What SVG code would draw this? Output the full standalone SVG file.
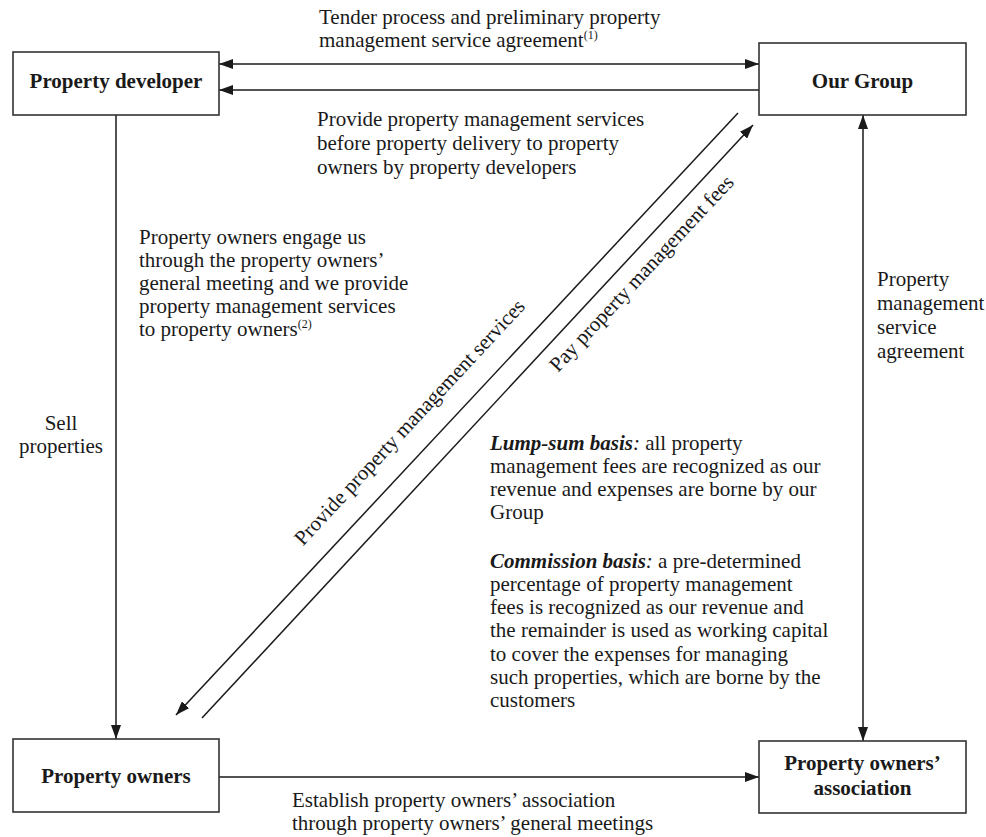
<svg xmlns="http://www.w3.org/2000/svg" width="986" height="837" viewBox="0 0 986 837">
  <defs>
    <marker id="arrow" viewBox="0 0 14 10" refX="14" refY="5" markerWidth="14" markerHeight="10" markerUnits="userSpaceOnUse" orient="auto-start-reverse">
      <path d="M0,0 L14,5 L0,10 z" fill="#1a1a1a"/>
    </marker>
    <style>
      .box { fill: #ffffff; stroke: #333333; stroke-width: 1.6; }
      .title { font-family: "Liberation Serif", "Times New Roman", serif; font-size: 21px; font-weight: bold; fill: #1a1a1a; text-anchor: middle; }
      .lbl { font-family: "Liberation Serif", "Times New Roman", serif; font-size: 21px; fill: #1a1a1a; }
      .sup { font-size: 12px; }
      .edge { fill: none; stroke: #1a1a1a; stroke-width: 1.5; }
      .bi { font-weight: bold; font-style: italic; }
      .it { font-style: italic; }
    </style>
  </defs>

  <!-- connectors -->
  <g id="connectors">
    <line class="edge" x1="219" y1="64" x2="759" y2="64" marker-start="url(#arrow)" marker-end="url(#arrow)"/>
    <line class="edge" x1="760" y1="90" x2="219" y2="90" marker-end="url(#arrow)"/>
    <line class="edge" x1="116" y1="115" x2="116" y2="739" marker-end="url(#arrow)"/>
    <line class="edge" x1="219" y1="777" x2="759" y2="777" marker-end="url(#arrow)"/>
    <line class="edge" x1="863" y1="115" x2="863" y2="741" marker-start="url(#arrow)" marker-end="url(#arrow)"/>
    <line class="edge" x1="738" y1="113" x2="176" y2="715" marker-end="url(#arrow)"/>
    <line class="edge" x1="202" y1="718" x2="753" y2="125" marker-end="url(#arrow)"/>
  </g>

  <!-- nodes -->
  <g id="node-developer">
    <rect class="box" x="13" y="52" width="206" height="63"/>
    <text class="title" x="116" y="88">Property developer</text>
  </g>
  <g id="node-group">
    <rect class="box" x="759" y="43" width="207" height="72"/>
    <text class="title" x="862.5" y="88">Our Group</text>
  </g>
  <g id="node-owners">
    <rect class="box" x="13" y="739" width="206" height="73"/>
    <text class="title" x="116" y="783">Property owners</text>
  </g>
  <g id="node-association">
    <rect class="box" x="759" y="741" width="207" height="72"/>
    <text class="title" x="862.5" y="770">Property owners’</text>
    <text class="title" x="862.5" y="795">association</text>
  </g>

  <!-- edge labels -->
  <g id="labels">
    <text class="lbl" x="319" y="24">Tender process and preliminary property</text>
    <text class="lbl" x="319" y="47">management service agreement<tspan class="sup" dy="-8">(1)</tspan></text>

    <text class="lbl" x="317" y="126">Provide property management services</text>
    <text class="lbl" x="317" y="150">before property delivery to property</text>
    <text class="lbl" x="317" y="174">owners by property developers</text>

    <text class="lbl" x="139" y="244">Property owners engage us</text>
    <text class="lbl" x="139" y="267">through the property owners’</text>
    <text class="lbl" x="139" y="290">general meeting and we provide</text>
    <text class="lbl" x="139" y="313">property management services</text>
    <text class="lbl" x="139" y="336">to property owners<tspan class="sup" dy="-8">(2)</tspan></text>

    <text class="lbl" x="61" y="430" text-anchor="middle">Sell</text>
    <text class="lbl" x="61" y="453" text-anchor="middle">properties</text>

    <text class="lbl" x="877" y="286">Property</text>
    <text class="lbl" x="877" y="310">management</text>
    <text class="lbl" x="877" y="334">service</text>
    <text class="lbl" x="877" y="358">agreement</text>

    <text class="lbl" transform="translate(303,546.5) rotate(-47)">Provide property management services</text>
    <text class="lbl" transform="translate(558,373) rotate(-47)">Pay property management fees</text>

    <text class="lbl" x="490" y="450"><tspan class="bi">Lump-sum basis</tspan><tspan class="it">:</tspan> all property</text>
    <text class="lbl" x="490" y="473">management fees are recognized as our</text>
    <text class="lbl" x="490" y="496">revenue and expenses are borne by our</text>
    <text class="lbl" x="490" y="519">Group</text>

    <text class="lbl" x="490" y="568"><tspan class="bi">Commission basis</tspan><tspan class="it">:</tspan> a pre-determined</text>
    <text class="lbl" x="490" y="591">percentage of property management</text>
    <text class="lbl" x="490" y="614">fees is recognized as our revenue and</text>
    <text class="lbl" x="490" y="637">the remainder is used as working capital</text>
    <text class="lbl" x="490" y="661">to cover the expenses for managing</text>
    <text class="lbl" x="490" y="684">such properties, which are borne by the</text>
    <text class="lbl" x="490" y="707">customers</text>

    <text class="lbl" x="292" y="807">Establish property owners’ association</text>
    <text class="lbl" x="292" y="830">through property owners’ general meetings</text>
  </g>
</svg>
